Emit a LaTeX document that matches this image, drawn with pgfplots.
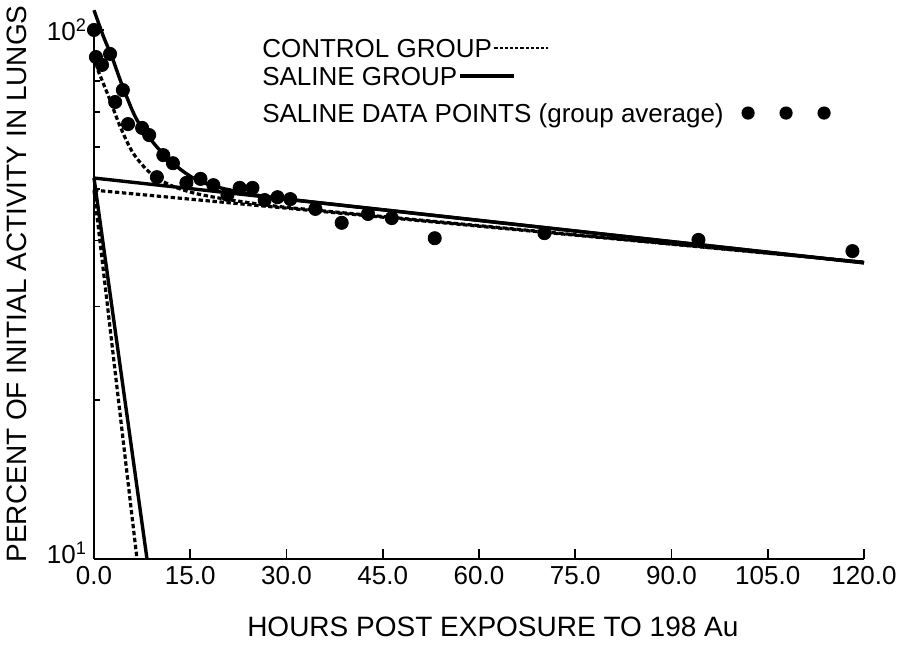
\documentclass[border=0pt]{standalone}
\usepackage{fontspec}
\setmainfont{Liberation Sans}
\usepackage{pgfplots}
\pgfplotsset{compat=1.18}

% saline group averages
\pgfplotstableread{
x y
0.0 100
0.3 88.9
1.25 85.9
2.5 90.1
3.3 73.1
4.5 77.0
5.3 66.4
7.5 65.3
8.6 63.3
10.8 58.0
12.3 56.0
9.8 52.7
14.4 51.4
16.6 52.3
18.6 50.9
20.8 48.8
22.7 50.3
24.7 50.3
26.6 47.7
28.6 48.3
30.6 47.9
34.5 45.9
38.6 43.2
42.7 44.9
46.4 44.1
53.1 40.4
70.2 41.3
94.2 40.1
118.2 38.2
}\salinepts

\tikzset{
  solidc/.style={black, line width=1.7pt},
  dashc/.style={black, line width=1.6pt, dash pattern=on 2.2pt off 1.3pt},
}

\begin{document}
\begin{tikzpicture}
\begin{axis}[
  name=ax,
  scale only axis,
  width=385pt, height=264.5pt,
  ymode=log,
  xmin=0, xmax=120, ymin=10, ymax=100,
  axis x line*=bottom, axis y line*=left,
  axis line style={line width=1.1pt},
  clip=false,
  xtick={0,15,...,120},
  xticklabels={0.0,15.0,30.0,45.0,60.0,75.0,90.0,105.0,120.0},
  ytick={10,100},
  yticklabels={\raisebox{6pt}{10\textsuperscript{1}},10\textsuperscript{2}},
  minor ytick={20,30,40,50,60,70,80,90},
  tick align=inside,
  major tick length=5pt, minor tick length=3pt,
  tick style={line width=0.9pt, black},
  ticklabel style={font=\fontsize{13}{15}\selectfont},
  xlabel={HOURS POST EXPOSURE TO 198 Au},
  ylabel={PERCENT OF INITIAL ACTIVITY IN LUNGS},
  label style={font=\fontsize{14}{16}\selectfont},
  xlabel style={at={(axis description cs:0.518,-0.1285)}, anchor=center},
  ylabel style={at={(axis description cs:-0.100,0.52)}, anchor=center},
]
% control group (dashed)
\addplot[dashc] coordinates {(0,49.8) (120,36.4)};
\addplot[dashc] coordinates {(0,49.8) (6.7,10)};
\addplot[dashc, smooth] coordinates {
  (0.6,84) (2.5,73.7) (4.1,65.6) (6.1,58.5) (8.75,53.7) (11.9,50.9)
  (15.5,49.2) (20,48.0) (25,47.0) (30,46.2)
};
\addplot[dashc] coordinates {(30,46.2) (120,36.4)};
% saline group (solid)
\addplot[solidc] coordinates {(0,52.5) (120,36.3)};
\addplot[solidc] coordinates {(0,52.5) (8.26,10)};
\addplot[solidc, smooth] coordinates {
  (0,109) (1.5,97) (2.8,88.9) (4.5,78.0) (6.7,67.6) (9.8,60.1)
  (13.0,55.1) (16.1,52.0) (20,50.2) (25,48.8) (30,47.9)
};
\addplot[solidc] coordinates {(30,47.9) (120,36.3)};
% data points
\addplot[only marks, mark=*, mark size=3.3pt, black] table[x=x, y=y] {\salinepts};

% legend text
\begin{scope}[every node/.style={anchor=west, inner sep=0pt, text depth=0pt,
    font=\fontsize{13}{15}\selectfont}]
\node (l1) at (rel axis cs:0.218,0.966) {CONTROL GROUP};
\node (l2) at (rel axis cs:0.218,0.913) {SALINE GROUP};
\node (l3) at (rel axis cs:0.218,0.843) {SALINE DATA POINTS (group average)};
\end{scope}
\end{axis}
% legend samples
\draw[dashc, line width=1.2pt, dash pattern=on 1.6pt off 1pt] ([xshift=1pt]l1.east) -- ++(27pt,0);
\draw[solidc] ([xshift=1pt]l2.east) -- ++(27pt,0);
\foreach \d in {12pt,31pt,50pt}
  \fill ([xshift=\d]l3.east) circle (3.3pt);
\pgfresetboundingbox
\path ([shift={(-47pt,-44.5pt)}]ax.south west) rectangle ++(453.5pt,324pt);
\end{tikzpicture}
\end{document}
